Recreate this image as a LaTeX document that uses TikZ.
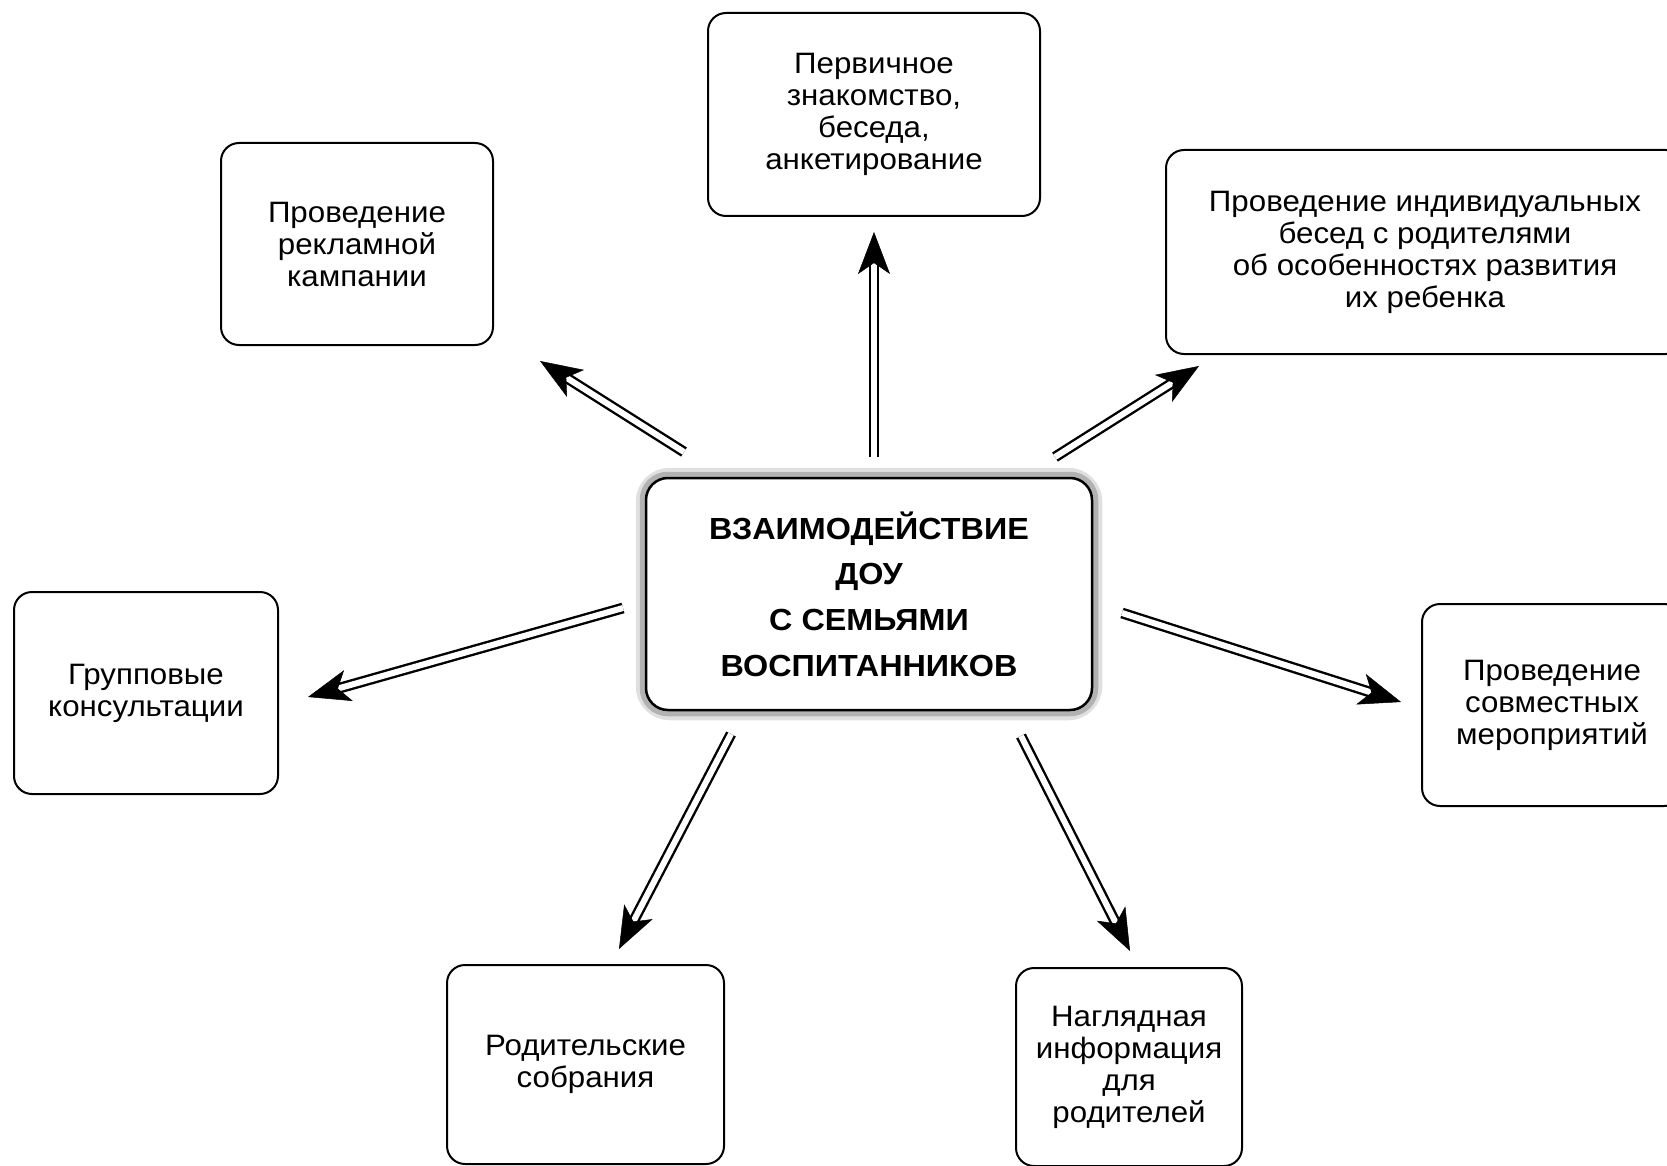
\documentclass[tikz,border=0pt]{standalone}
\usepackage{fontspec}
\setmainfont[FakeStretch=1.06]{Liberation Sans}
\usetikzlibrary{arrows.meta,calc,backgrounds}
\newcommand\dblarrow[2]{%
  \draw[shaft] (#1) -- ($(#2)!28pt!(#1)$);
  \draw[tipst] ($(#2)!30pt!(#1)$) -- (#2);}
\begin{document}
\begin{tikzpicture}[x=1pt,y=-1pt,
  box/.style={draw, line width=2pt, rounded corners=18pt, align=center,
    font=\fontsize{29.5}{32}\selectfont, inner sep=0pt},
  shaft/.style={draw, double distance=6pt, line width=2.4pt},
  tipst/.style={line width=0.5pt, -{Stealth[length=42pt,width=32pt,inset=11pt]}}]
\useasboundingbox (0,0) rectangle (1667,1166);
\clip (0,0) rectangle (1667,1166);

% central node
\node[box, fill=white, line width=2.5pt, rounded corners=22pt,
  minimum width=446pt, minimum height=232pt,
  font=\bfseries\fontsize{30.5}{45.7}\selectfont] (c) at (869,594)
  {ВЗАИМОДЕЙСТВИЕ\\ДОУ\\С СЕМЬЯМИ\\ВОСПИТАННИКОВ};
\begin{scope}[on background layer]
  \draw[black!12, line width=18pt, rounded corners=25pt] (c.south west) rectangle (c.north east);
  \draw[black!30, line width=10pt, rounded corners=23pt] (c.south west) rectangle (c.north east);
\end{scope}

% outer nodes
\node[box, minimum width=332pt, minimum height=203pt] (top) at (874,114.5)
  {Первичное\\знакомство,\\беседа,\\анкетирование};
\node[box, minimum width=272pt, minimum height=202pt] (tl) at (357,244)
  {Проведение\\рекламной\\кампании};
\node[box, minimum width=518pt, minimum height=204pt] (tr) at (1425,252)
  {Проведение индивидуальных\\бесед с родителями\\об особенностях развития\\их ребенка};
\node[box, minimum width=264pt, minimum height=202pt] (lf) at (146,693)
  {Групповые\\консультации};
\node[box, minimum width=260pt, minimum height=202pt] (rt) at (1552,705)
  {Проведение\\совместных\\мероприятий};
\node[box, minimum width=277pt, minimum height=199pt] (bl) at (585.5,1064.5)
  {Родительские\\собрания};
\node[box, minimum width=226pt, minimum height=198pt] (br) at (1129,1067)
  {Наглядная\\информация\\для\\родителей};

% arrow end points
\coordinate (s1) at (874,457);  \coordinate (e1) at (874,232);
\coordinate (s2) at (684,452);  \coordinate (e2) at (540,361);
\coordinate (s3) at (1055,457); \coordinate (e3) at (1199,366);
\coordinate (s4) at (623,608);  \coordinate (e4) at (308,697);
\coordinate (s5) at (1122,613); \coordinate (e5) at (1401,702);
\coordinate (s6) at (731,734);  \coordinate (e6) at (619,949);
\coordinate (s7) at (1021,736); \coordinate (e7) at (1130,951);

\dblarrow{s1}{e1}
\dblarrow{s2}{e2}
\dblarrow{s3}{e3}
\dblarrow{s4}{e4}
\dblarrow{s5}{e5}
\dblarrow{s6}{e6}
\dblarrow{s7}{e7}
\end{tikzpicture}
\end{document}
